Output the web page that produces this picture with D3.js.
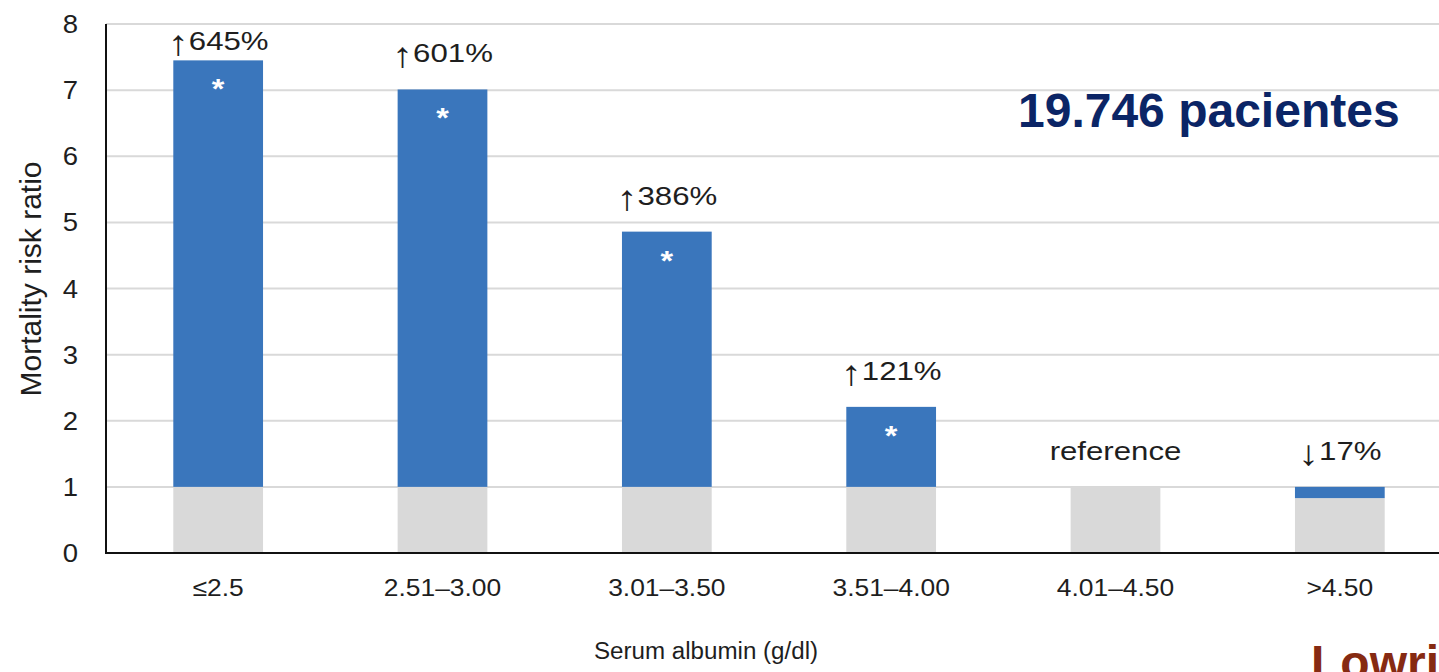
<!DOCTYPE html>
<html>
<head>
<meta charset="utf-8">
<script src="https://cdn.jsdelivr.net/npm/d3@7"></script>
<style>
  html, body { margin: 0; padding: 0; background: #fff; overflow: hidden; }
  svg { display: block; font-family: "Liberation Sans", Arial, sans-serif; }
</style>
</head>
<body>
<svg id="chart" width="1439" height="672"></svg>
<script>
// Serum albumin bands and their mortality risk relative to the 4.01–4.50 reference group
const categories = ["≤2.5", "2.51–3.00", "3.01–3.50", "3.51–4.00", "4.01–4.50", ">4.50"];
const percentChange = [645, 601, 386, 121, null, -17];
const riskRatio = [7.45, 7.01, 4.86, 2.21, 1.00, 0.83];
const significant = [true, true, true, true, false, false];
const yTicks = [0, 1, 2, 3, 4, 5, 6, 7, 8];

const BLUE = "#3a76bc";
const GREY = "#d9d9d9";
const INK = "#1e1e1e";

const svg = d3.select("#chart");
const W = 1439, H = 672;
const plotLeft = 106, plotTop = 24, plotBottom = 553, plotRight = 1452;

// chart text is set slightly wide
const WIDE = 1.2;

const x = d3.scaleBand()
  .domain(categories)
  .range([plotLeft, plotRight])
  .paddingInner(0.6)
  .paddingOuter(0.3);

const y = d3.scaleLinear().domain([0, 8]).range([plotBottom, plotTop]);

const rows = categories.map((c, i) => ({
  cat: c,
  change: percentChange[i],
  value: riskRatio[i],
  sig: significant[i]
}));

const cx = d => x(d.cat) + x.bandwidth() / 2;

// horizontal gridlines
svg.append("g")
  .selectAll("line")
  .data(yTicks.filter(t => t > 0))
  .join("line")
  .attr("x1", plotLeft).attr("x2", W)
  .attr("y1", d => y(d)).attr("y2", d => y(d))
  .attr("stroke", "#d9d9d9")
  .attr("stroke-width", 2);

// grey part: from 0 up to the smaller of the ratio and 1
svg.append("g")
  .selectAll("rect")
  .data(rows)
  .join("rect")
  .attr("x", d => x(d.cat))
  .attr("width", x.bandwidth())
  .attr("y", d => y(Math.min(d.value, 1)))
  .attr("height", d => y(0) - y(Math.min(d.value, 1)))
  .attr("fill", GREY);

// blue part: the gap between the ratio and the reference level of 1
svg.append("g")
  .selectAll("rect")
  .data(rows.filter(d => d.value !== 1))
  .join("rect")
  .attr("x", d => x(d.cat))
  .attr("width", x.bandwidth())
  .attr("y", d => y(Math.max(d.value, 1)))
  .attr("height", d => Math.abs(y(1) - y(d.value)))
  .attr("fill", BLUE);

// significance markers
svg.append("g")
  .selectAll("text")
  .data(rows.filter(d => d.sig))
  .join("text")
  .attr("transform", d => `translate(${cx(d)},${y(d.value) + 38}) scale(${WIDE},1)`)
  .attr("text-anchor", "middle")
  .attr("fill", "#fff")
  .attr("font-weight", "bold")
  .attr("font-size", 27)
  .text("*");

// change labels above bars
const labels = svg.append("g")
  .selectAll("text")
  .data(rows)
  .join("text")
  .attr("transform", d =>
    `translate(${cx(d)},${Math.max(y(Math.max(d.value, 1)) - 27, y(8) + 26)}) scale(${WIDE},1)`)
  .attr("text-anchor", "middle")
  .attr("fill", INK)
  .attr("font-size", 26);

labels.filter(d => d.change === null).text("reference");

const changed = labels.filter(d => d.change !== null);
changed.append("tspan")
  .attr("font-size", 35)
  .attr("dy", 5)
  .text(d => d.change > 0 ? "↑" : "↓");
changed.append("tspan")
  .attr("dy", -5)
  .text(d => Math.abs(d.change) + "%");

// axis lines
svg.append("line")
  .attr("x1", plotLeft).attr("x2", plotLeft)
  .attr("y1", y(8)).attr("y2", y(0))
  .attr("stroke", "#111").attr("stroke-width", 2);
svg.append("line")
  .attr("x1", plotLeft - 1).attr("x2", W)
  .attr("y1", y(0)).attr("y2", y(0))
  .attr("stroke", "#111").attr("stroke-width", 2);

// y tick labels
svg.append("g")
  .selectAll("text")
  .data(yTicks)
  .join("text")
  .attr("transform", d => `translate(78,${y(d)}) scale(1.1,1)`)
  .attr("dy", "0.36em")
  .attr("text-anchor", "end")
  .attr("fill", INK)
  .attr("font-size", 25)
  .text(d => d);

// x tick labels
svg.append("g")
  .selectAll("text")
  .data(categories)
  .join("text")
  .attr("transform", d => `translate(${x(d) + x.bandwidth() / 2},596) scale(1.1,1)`)
  .attr("text-anchor", "middle")
  .attr("fill", INK)
  .attr("font-size", 24)
  .text(d => d);

// axis titles
svg.append("text")
  .attr("transform", "translate(41,279) rotate(-90)")
  .attr("text-anchor", "middle")
  .attr("fill", INK)
  .attr("font-size", 30)
  .text("Mortality risk ratio");

svg.append("text")
  .attr("transform", "translate(706,659) scale(1.05,1)")
  .attr("text-anchor", "middle")
  .attr("fill", INK)
  .attr("font-size", 23)
  .text("Serum albumin (g/dl)");

// study size callout
svg.append("text")
  .attr("x", 1018)
  .attr("y", 127)
  .attr("fill", "#0b2566")
  .attr("font-weight", "bold")
  .attr("font-size", 48)
  .text("19.746 pacientes");

// source
svg.append("text")
  .attr("x", 1311)
  .attr("y", 679)
  .attr("fill", "#862a12")
  .attr("font-weight", "bold")
  .attr("font-size", 48)
  .text("Lowrie");
</script>
</body>
</html>
